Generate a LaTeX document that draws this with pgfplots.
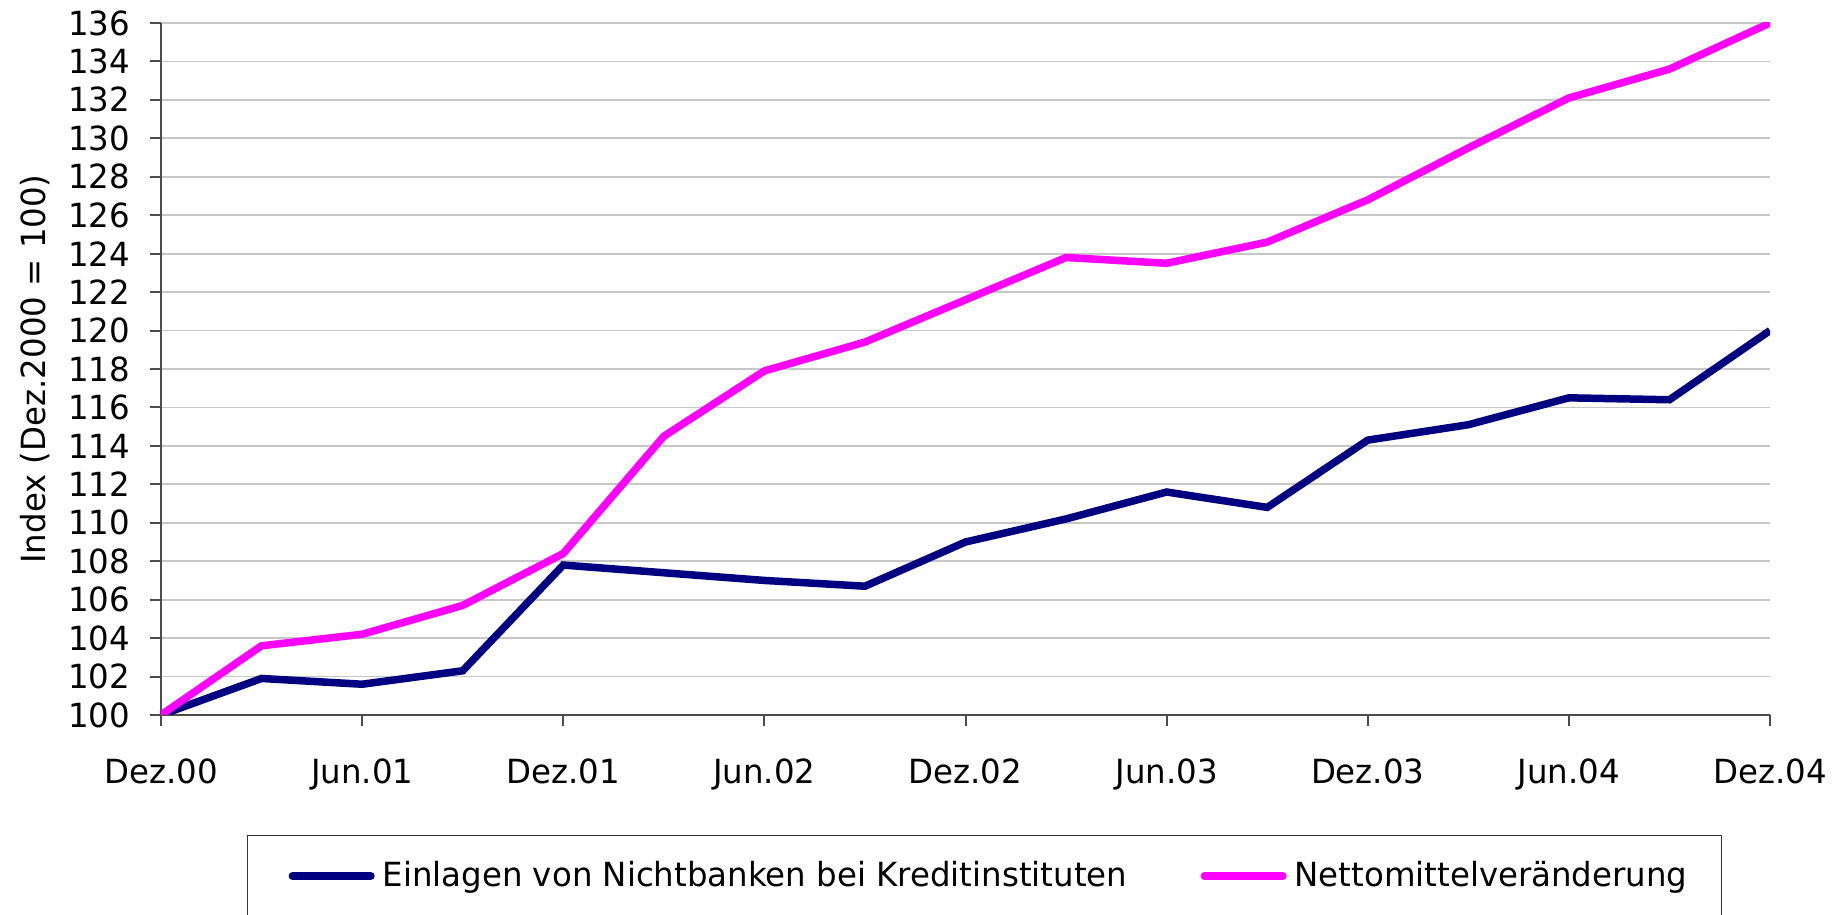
\documentclass[border=0pt]{standalone}
\usepackage{fontspec}
\setmainfont[FakeStretch=0.975]{DejaVu Sans}
\usepackage{pgfplots}
\pgfplotsset{compat=1.18}
\definecolor{navyline}{HTML}{000080}
\definecolor{magline}{HTML}{FF00FF}
\begin{document}
\fontsize{13.3}{15.5}\selectfont
\begin{tikzpicture}
\begin{axis}[
  at={(64.4pt,80pt)}, anchor=south west,
  scale only axis, width=643.6pt, height=276.8pt,
  xmin=0, xmax=16, ymin=100, ymax=136,
  xtick={0,2,...,16},
  xticklabels={Dez.00,Jun.01,Dez.01,Jun.02,Dez.02,Jun.03,Dez.03,Jun.04,Dez.04},
  ytick={100,102,...,136},
  axis x line*=bottom, axis y line*=left,
  tick align=outside, major tick length=4.4pt,
  ymajorgrids, grid style={color=black!22, line width=0.7pt},
  axis line style={black!70, line width=0.8pt},
  tick style={black!70, line width=0.8pt},
  /pgf/number format/assume math mode=true,
  yticklabel style={anchor=east, xshift=-3.3pt},
  xticklabel style={anchor=north, yshift=-8.5pt},
  ylabel={Index (Dez.2000 = 100)},
  ylabel style={at={(axis description cs:-0.0783,0.5)}, anchor=center},
  legend columns=2,
  legend style={at={(axis description cs:0.0534,-0.1734)}, anchor=north west,
    draw=black!80, line width=0.6pt, inner xsep=16.4pt, inner ysep=10pt,
    nodes={inner sep=0pt, anchor=west}, column sep=0pt},
  legend image code/.code={\draw[#1, line cap=round] (1.5pt,0pt) -- (32.9pt,0pt);},
]
\addplot[navyline, line width=3pt] coordinates {
(0,100) (1,101.9) (2,101.6) (3,102.3) (4,107.8) (5,107.4) (6,107.0) (7,106.7)
(8,109.0) (9,110.2) (10,111.6) (11,110.8) (12,114.3) (13,115.1) (14,116.5) (15,116.4) (16,120.0)};
\addlegendentry{\hspace{3.2pt}\makebox[327.2pt][l]{Einlagen von Nichtbanken bei Kreditinstituten}}
\addplot[magline, line width=3pt] coordinates {
(0,100) (1,103.6) (2,104.2) (3,105.7) (4,108.4) (5,114.5) (6,117.9) (7,119.4)
(8,121.6) (9,123.8) (10,123.5) (11,124.6) (12,126.8) (13,129.5) (14,132.1) (15,133.6) (16,136.0)};
\addlegendentry{\hspace{3.2pt}\makebox[154.4pt][l]{Nettomittelveränderung}}
\end{axis}
\pgfresetboundingbox
\path[use as bounding box] (0,0) rectangle (738pt,366pt);
\end{tikzpicture}
\end{document}
